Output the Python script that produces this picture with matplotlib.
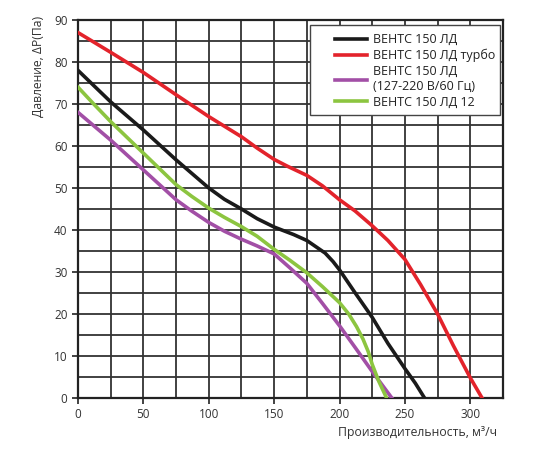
import matplotlib.pyplot as plt
from matplotlib.ticker import MultipleLocator
from matplotlib.patches import Rectangle

plt.rcParams['font.family'] = ['Open Sans', 'DejaVu Sans']

# ВЕНТС 150 ЛД
x_black = [0, 25, 50, 75, 100, 112, 125, 137, 150, 165, 175, 182, 189, 195, 200, 212, 225, 237, 250, 258, 265]
y_black = [78, 70.5, 63.8, 56.7, 50, 47.3, 45, 42.7, 40.7, 38.9, 37.5, 36, 34.5, 32.5, 30.5, 25, 19.2, 13, 7, 3.5, 0]

# ВЕНТС 150 ЛД турбо
x_red = [0, 25, 50, 75, 100, 125, 137, 150, 160, 175, 187, 200, 212, 225, 237, 250, 262, 275, 287, 300, 309]
y_red = [87, 82.3, 77.5, 72.2, 67, 62.2, 59.5, 56.8, 55.2, 53, 50.5, 47.2, 44.5, 41, 37.5, 33, 27, 20, 12.5, 4.8, 0]

# ВЕНТС 150 ЛД (127-220 В/60 Гц)
x_purple = [0, 25, 50, 75, 87, 100, 112, 125, 137, 150, 162, 175, 187, 200, 212, 225, 240]
y_purple = [68, 61.4, 54.3, 47.2, 44.5, 41.8, 39.7, 37.8, 36.2, 34.3, 31, 27.3, 22.5, 17.2, 12, 6.3, 0]

# ВЕНТС 150 ЛД 12
x_green = [0, 12, 25, 50, 75, 87, 100, 112, 125, 137, 150, 162, 175, 187, 200, 207, 213, 218, 222, 225, 230, 236]
y_green = [74, 70, 65.8, 58.3, 50.8, 48, 45.2, 43, 40.8, 38.5, 35.4, 32.8, 29.8, 26.5, 22.7, 20, 17, 14, 11, 8, 4, 0]

fig = plt.figure(figsize=(5.5, 4.5), dpi=100)
ax = fig.add_axes([0.1418, 0.1156, 0.7727, 0.84])

ax.plot(x_black, y_black, color='#1a1a1a', lw=2.6, label='ВЕНТС 150 ЛД', zorder=5)
ax.plot(x_red, y_red, color='#e3232b', lw=2.6, label='ВЕНТС 150 ЛД турбо', zorder=5)
ax.plot(x_purple, y_purple, color='#a24fa6', lw=2.6, label='ВЕНТС 150 ЛД\n(127-220 В/60 Гц)', zorder=5)
ax.plot(x_green, y_green, color='#8cc540', lw=2.6, label='ВЕНТС 150 ЛД 12', zorder=5)

ax.set_xlim(0, 325)
ax.set_ylim(0, 90)
ax.xaxis.set_major_locator(MultipleLocator(50))
ax.xaxis.set_minor_locator(MultipleLocator(25))
ax.yaxis.set_major_locator(MultipleLocator(10))
ax.yaxis.set_minor_locator(MultipleLocator(5))
ax.grid(which='both', color='#333333', lw=1.3)
ax.set_axisbelow(True)
for s in ax.spines.values():
    s.set_linewidth(1.6)
    s.set_color('#222222')
ax.tick_params(which='major', direction='out', length=4, width=1.2, labelsize=8.5, colors='#222222', labelcolor='#333333')
ax.tick_params(which='minor', length=0)

ax.set_ylabel('Давление, ΔР(Па)', fontsize=8.7, color='#333333')
ax.yaxis.set_label_coords(-0.078, 0.876)
ax.set_xlabel('Производительность, м³/ч', fontsize=8.8, color='#333333')
ax.xaxis.set_label_coords(0.985, -0.073)
ax.xaxis.label.set_horizontalalignment('right')

# legend frame
ax.add_patch(Rectangle((0.546, 0.749), 0.447, 0.238, transform=ax.transAxes,
                       facecolor='white', edgecolor='#444444', lw=1.0, zorder=6))
leg = ax.legend(loc='upper left', bbox_to_anchor=(0.59, 0.982), fontsize=9, frameon=False,
                handlelength=2.6, borderpad=0, labelspacing=0.22, handletextpad=0.45)
leg.set_zorder(7)
for t in leg.get_texts():
    t.set_color('#222222')

fig.savefig('out.png', dpi=100)
